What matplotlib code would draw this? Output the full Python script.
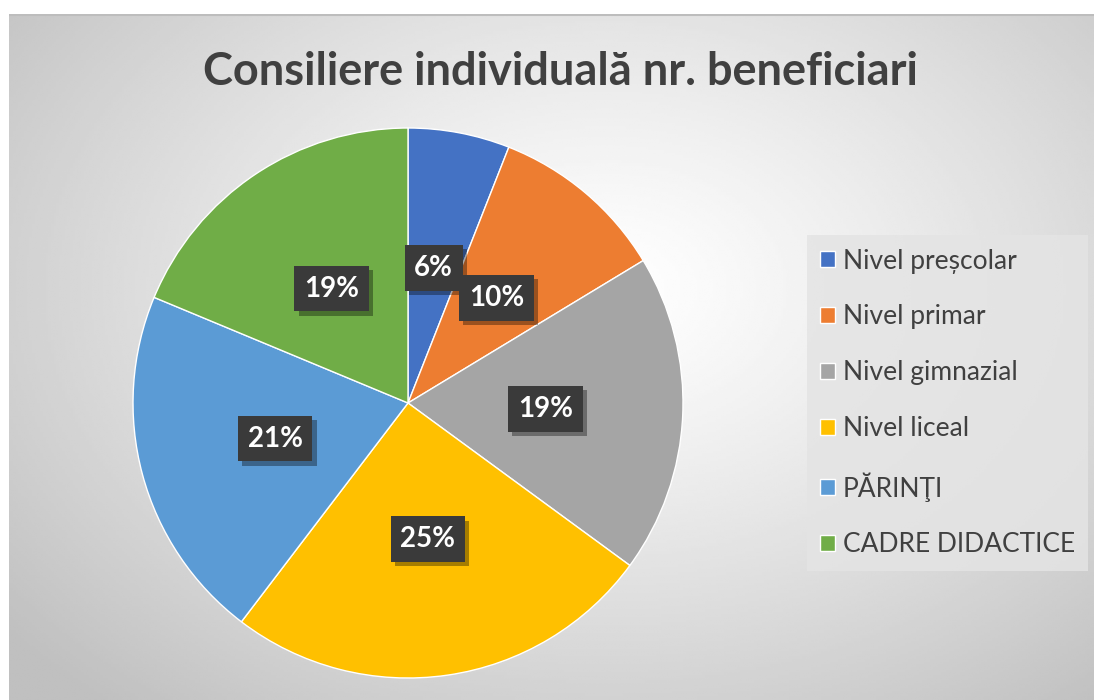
import numpy as np
import matplotlib
matplotlib.use("Agg")
import matplotlib.pyplot as plt
import matplotlib.patheffects as pe

# data (counts chosen to match slice angles / rounded labels)
categories = ["Nivel preșcolar", "Nivel primar", "Nivel gimnazial",
              "Nivel liceal", "PĂRINŢI", "CADRE DIDACTICE"]
values = [30, 52, 94, 127, 105, 94]
colors = ["#4472C4", "#ED7D31", "#A5A5A5", "#FFC000", "#5B9BD5", "#70AD47"]
title = "Consiliere individuală nr. beneficiari"

plt.rcParams['font.family'] = ['Lato', 'DejaVu Sans']

W, H = 1094, 700
fig = plt.figure(figsize=(W / 100, H / 100), dpi=100)
fig.patch.set_facecolor("white")

# radial gradient background (chart area)
bx0, by0 = 9, 14
bg = fig.add_axes([bx0 / W, 0, 1 - bx0 / W, 1 - by0 / H])
gx, gy = np.meshgrid(np.linspace(0, 1, 400), np.linspace(0, 1, 260))
d = np.sqrt(((gx - 0.55) / 0.72) ** 2 + ((gy - 0.40) / 0.8) ** 2)
shade = 1.0 - 0.25 * np.clip(d, 0, 1) ** 1.2
bg.imshow(shade, cmap="gray", vmin=0, vmax=1, aspect="auto",
          extent=(0, 1, 1, 0), interpolation="bilinear")
bg.set_xlim(0, 1)
bg.set_ylim(1, 0)
bg.axhline(0.002, color="#bdbdbd", lw=1.5)
bg.axis("off")

# pie
cx, cy, r = 408, 403, 275
ax = fig.add_axes([(cx - r) / W, (H - cy - r) / H, 2 * r / W, 2 * r / H])
wedges, _, autotexts = ax.pie(values, colors=colors, startangle=90, counterclock=False,
                              autopct=lambda p: f"{p:.0f}%", pctdistance=0.5,
                              wedgeprops=dict(edgecolor="white", linewidth=1),
                              textprops=dict(color="white", fontsize=20, fontweight="bold"))
ax.set_xlim(-1, 1)
ax.set_ylim(-1, 1)
ax.set_aspect("equal")

for t in autotexts:
    t.set_bbox(dict(boxstyle="square,pad=0.35", facecolor="#3a3a3a", edgecolor="none"))
    t.get_bbox_patch().set_path_effects([
        pe.SimplePatchShadow(offset=(3, -3), shadow_rgbFace="black", alpha=0.35),
        pe.Normal()])

fig.text(560 / W, 1 - 72 / H, title, ha="center", va="center",
         fontsize=32.5, fontweight="bold", color="#404040")

leg = fig.legend(wedges, categories, loc="center left",
                 bbox_to_anchor=(794 / W, 1 - 403 / H), fontsize=19,
                 frameon=True, handlelength=0.55, handleheight=0.55,
                 handletextpad=0.3, labelspacing=1.17, borderpad=0.5,
                 labelcolor="#404040", fancybox=False)
leg.get_frame().set_facecolor("#e4e4e4")
leg.get_frame().set_edgecolor("none")
leg.get_frame().set_alpha(0.85)

fig.savefig("out.png", dpi=100)
